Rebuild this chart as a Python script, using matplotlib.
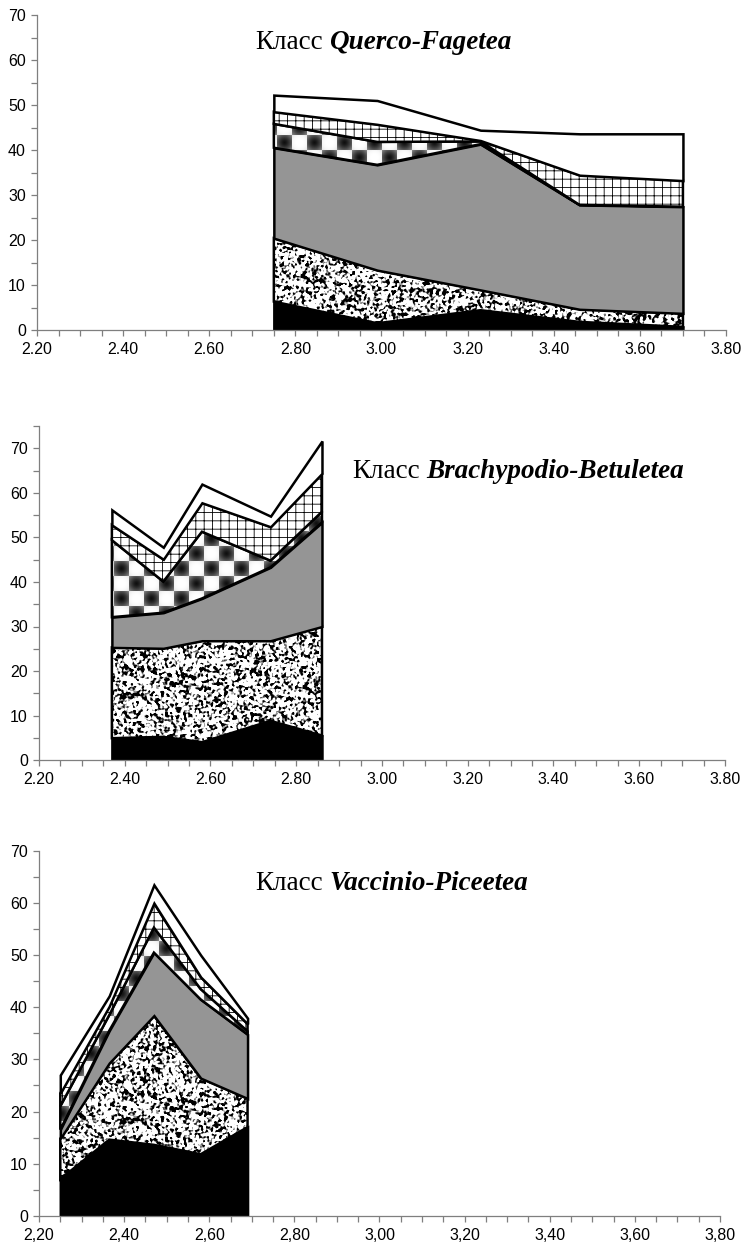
import numpy as np
import matplotlib
matplotlib.use('Agg')
import matplotlib.pyplot as plt
from matplotlib.ticker import MultipleLocator, FixedLocator, FuncFormatter

# ---------------- data ----------------
x_ticks = [2.20, 2.40, 2.60, 2.80, 3.00, 3.20, 3.40, 3.60, 3.80]

qf_title = "Querco-Fagetea"
qf_x = [2.75, 2.99, 3.23, 3.46, 3.70]
qf_s1 = [6.3, 1.5, 4.4, 1.8, 0.7]
qf_s2 = [14.1, 11.8, 4.5, 2.8, 3.0]
qf_s3 = [20.1, 23.4, 32.4, 23.2, 23.7]
qf_s4 = [5.3, 5.1, 0.6, 0.0, 0.0]
qf_s5 = [2.7, 3.9, 0.2, 6.6, 5.8]
qf_s6 = [3.7, 5.3, 2.3, 9.2, 10.4]

bb_title = "Brachypodio-Betuletea"
bb_x = [2.37, 2.49, 2.58, 2.74, 2.86]
bb_s1 = [4.9, 5.2, 4.0, 8.8, 5.5]
bb_s2 = [20.4, 19.9, 22.8, 18.0, 24.5]
bb_s3 = [6.8, 8.0, 9.5, 16.5, 23.4]
bb_s4 = [17.3, 7.0, 15.0, 1.5, 2.4]
bb_s5 = [3.4, 5.0, 6.5, 7.6, 8.6]
bb_s6 = [3.4, 2.7, 4.2, 2.4, 7.3]

vp_title = "Vaccinio-Piceetea"
vp_x = [2.25, 2.365, 2.47, 2.58, 2.69]
vp_s1 = [7.0, 14.6, 13.6, 11.8, 17.0]
vp_s2 = [7.8, 14.7, 24.8, 14.6, 5.5]
vp_s3 = [1.7, 6.2, 12.1, 15.1, 12.3]
vp_s4 = [4.5, 3.0, 4.8, 2.0, 0.6]
vp_s5 = [2.5, 1.7, 4.7, 2.3, 1.4]
vp_s6 = [3.5, 2.0, 3.5, 4.2, 1.1]

# ---------------- textures (fill styles) ----------------
def speckle_texture(h, w):
    i, j = np.mgrid[0:h, 0:w].astype(float)
    v = np.sin(i * 12.9898 + j * 78.233) * 43758.5453
    v = v - np.floor(v)
    v = (v + np.roll(v, 1, 0) + np.roll(v, -1, 0) + np.roll(v, 1, 1) + np.roll(v, -1, 1)) / 5.0
    v2 = (v + np.roll(v, 1, 0) + np.roll(v, 1, 1) + np.roll(np.roll(v, 1, 0), 1, 1)) / 4.0
    return np.clip((v2 - 0.5) * 9 + 0.9, 0, 1)


def checker_texture(h, w, cell=15):
    i, j = np.mgrid[0:h, 0:w]
    dark = ((i // cell) + (j // cell)) % 2 == 0
    fi = (i % cell + 0.5) / cell - 0.5
    fj = (j % cell + 0.5) / cell - 0.5
    r = np.sqrt(fi ** 2 + fj ** 2) / 0.7071
    return np.where(dark, 0.06 + 0.5 * r ** 1.5, 1.0 - 0.12 * r ** 3)


W, H = 745, 1251
fig = plt.figure(figsize=(W / 100, H / 100), dpi=100)

LW = 1.8
plt.rcParams['hatch.linewidth'] = 0.6


def draw_panel(rect, xs, series, ylim, comma):
    ax = fig.add_axes(rect)
    ax.set_xlim(2.2, 3.8)
    ax.set_ylim(0, ylim)
    pw = int(round(rect[2] * W))
    ph = int(round(rect[3] * H))
    base = np.zeros(len(xs))
    styles = ['black', 'speckle', 'gray', 'checker', 'grid', 'white']
    for k, (s, st) in enumerate(zip(series, styles)):
        top = base + np.array(s)
        z = 2 + k * 0.1
        if st in ('black', 'gray', 'white'):
            fc = {'black': 'black', 'gray': '#959595', 'white': 'white'}[st]
            ax.fill_between(xs, base, top, facecolor=fc, edgecolor='black',
                            linewidth=LW, joinstyle='miter', zorder=z)
        elif st == 'grid':
            ax.fill_between(xs, base, top, facecolor='white', edgecolor='black',
                            hatch='++', linewidth=LW, joinstyle='miter', zorder=z)
        else:
            poly = ax.fill_between(xs, base, top, facecolor='none', edgecolor='black',
                                   linewidth=LW, joinstyle='miter', zorder=z + 0.05)
            tex = speckle_texture(ph, pw) if st == 'speckle' else checker_texture(ph, pw)
            im = ax.imshow(tex, extent=(2.2, 3.8, 0, ylim), cmap='gray', vmin=0, vmax=1,
                           aspect='auto', interpolation='nearest', zorder=z)
            im.set_clip_path(poly.get_paths()[0], transform=ax.transData)
        base = top
    ax.set_xlim(2.2, 3.8)
    ax.set_ylim(0, ylim)
    for sp in ('top', 'right'):
        ax.spines[sp].set_visible(False)
    for sp in ('left', 'bottom'):
        ax.spines[sp].set_color('#7f7f7f')
        ax.spines[sp].set_linewidth(0.9)
        ax.spines[sp].set_zorder(5)
    ax.xaxis.set_major_locator(FixedLocator(x_ticks))
    ax.xaxis.set_minor_locator(MultipleLocator(0.05))
    ax.yaxis.set_major_locator(MultipleLocator(10))
    ax.yaxis.set_minor_locator(MultipleLocator(5))
    if comma:
        ax.xaxis.set_major_formatter(FuncFormatter(lambda v, p: f"{v:.2f}".replace('.', ',')))
    else:
        ax.xaxis.set_major_formatter(FuncFormatter(lambda v, p: f"{v:.2f}"))
    ax.yaxis.set_major_formatter(FuncFormatter(lambda v, p: f"{v:.0f}"))
    ax.tick_params(which='both', direction='out', length=4, width=0.9, color='#7f7f7f',
                   labelsize=11.5, labelcolor='black')
    ax.tick_params(axis='x', which='major', pad=5)
    ax.tick_params(axis='y', which='major', pad=4)
    for lab in ax.get_xticklabels() + ax.get_yticklabels():
        lab.set_fontfamily('Liberation Sans')
    return ax


ax1 = draw_panel([37 / W, (H - 330) / H, 689 / W, 315 / H], qf_x,
                 [qf_s1, qf_s2, qf_s3, qf_s4, qf_s5, qf_s6], 70, False)
ax2 = draw_panel([39 / W, (H - 760) / H, 686 / W, 333.75 / H], bb_x,
                 [bb_s1, bb_s2, bb_s3, bb_s4, bb_s5, bb_s6], 75, False)
ax3 = draw_panel([39 / W, (H - 1215.7) / H, 681 / W, 364.7 / H], vp_x,
                 [vp_s1, vp_s2, vp_s3, vp_s4, vp_s5, vp_s6], 70, True)

TFS = 19.5
fig.canvas.draw()
renderer = fig.canvas.get_renderer()


def title(x_px, base_px, name):
    t1 = fig.text(x_px / W, 1 - base_px / H, "Класс", fontfamily='Liberation Serif',
                  fontsize=TFS, va='baseline', ha='left')
    bb = t1.get_window_extent(renderer=renderer)
    gap = 0.25 * TFS * 100 / 72
    fig.text((bb.x1 + gap) / W, 1 - base_px / H, name, fontfamily='Liberation Serif',
             fontsize=TFS, fontweight='bold', fontstyle='italic', va='baseline', ha='left')


title(255, 49, qf_title)
title(352, 478, bb_title)
title(255, 890, vp_title)

fig.savefig('out.png', dpi=100)
